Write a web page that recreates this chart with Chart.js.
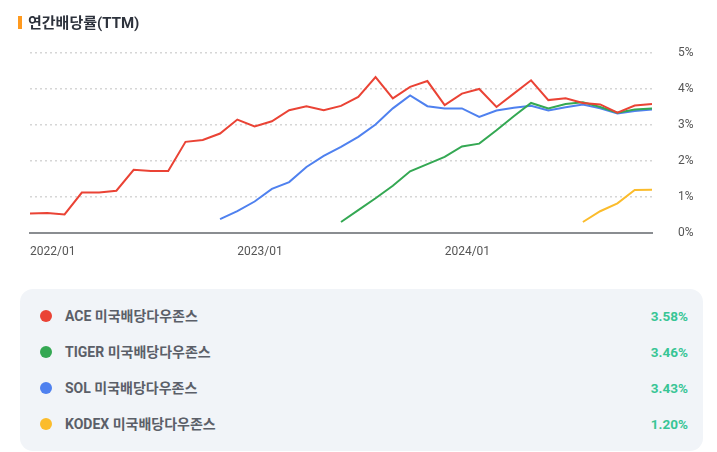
<!DOCTYPE html>
<html>
<head>
<meta charset="utf-8">
<script src="https://cdn.jsdelivr.net/npm/chart.js@4.4.1/dist/chart.umd.min.js"></script>
<style>
  body { margin: 0; background: #fff; font-family: Roboto, 'Noto Sans CJK KR', sans-serif; }
  #wrap { position: relative; width: 717px; height: 452px; overflow: hidden; }
  #title { position: absolute; left: 18px; top: 13px; font-size: 15px; font-weight: bold; color: #2d323c; line-height: 20px; }
  #title span.bar { display: inline-block; width: 4px; height: 13px; background: #ff9a1f; margin-right: 6px; vertical-align: -1px; }
  #chartBox { position: absolute; left: 0; top: 0; width: 717px; height: 266px; }
  #legend { position: absolute; left: 20px; top: 289px; width: 683px; height: 162px; background: #f1f4f8; border-radius: 13px; }
  .row { position: absolute; left: 0; right: 0; height: 20px; font-size: 14px; font-weight: bold; color: #5b5f68; line-height: 20px; }
  .dot { position: absolute; left: 20px; top: 4px; width: 12px; height: 12px; border-radius: 50%; }
  .name { position: absolute; left: 45px; }
  .val { position: absolute; right: 15px; color: #38c595; font-size: 13.5px; }
</style>
</head>
<body>
<div id="wrap">
  <div id="chartBox"><canvas id="yield"></canvas></div>
  <div id="title"><span class="bar"></span>연간배당률(TTM)</div>
  <div id="legend"></div>
</div>
<script>
// months 2022/01 .. 2025/01
const months = []
for (let i = 0; i < 37; i++) {
  const y = 2022 + Math.floor(i / 12)
  const m = (i % 12) + 1
  months.push(y + '/' + String(m).padStart(2, '0'))
}
const tickLabels = ['2022/01', '2023/01', '2024/01']

const names = ['ACE 미국배당다우존스', 'TIGER 미국배당다우존스', 'SOL 미국배당다우존스', 'KODEX 미국배당다우존스']
const colors = ['#ea4335', '#34a853', '#4f81ef', '#fbbc2c']

const ace = [0.54, 0.55, 0.51, 1.12, 1.12, 1.17, 1.75, 1.72, 1.72, 2.53, 2.58, 2.76,
  3.15, 2.96, 3.10, 3.41, 3.52, 3.41, 3.53, 3.78, 4.33, 3.74, 4.06, 4.22,
  3.55, 3.87, 4.00, 3.50, 3.87, 4.24, 3.69, 3.74, 3.61, 3.57, 3.34, 3.54, 3.58]
const tiger = [null, null, null, null, null, null, null, null, null, null, null, null,
  null, null, null, null, null, null, 0.30, 0.63, 0.96, 1.31, 1.71, 1.91,
  2.11, 2.40, 2.48, 2.85, 3.24, 3.61, 3.46, 3.58, 3.63, 3.50, 3.34, 3.43, 3.46]
const sol = [null, null, null, null, null, null, null, null, null, null, null, 0.38,
  0.60, 0.87, 1.22, 1.41, 1.83, 2.14, 2.39, 2.67, 3.01, 3.46, 3.82, 3.52,
  3.46, 3.46, 3.22, 3.40, 3.48, 3.53, 3.40, 3.49, 3.57, 3.46, 3.32, 3.39, 3.43]
const kodex = [null, null, null, null, null, null, null, null, null, null, null, null,
  null, null, null, null, null, null, null, null, null, null, null, null,
  null, null, null, null, null, null, null, null, 0.30, 0.60, 0.82, 1.19, 1.20]
const series = [ace, tiger, sol, kodex]

const ctx = document.getElementById('yield')

new Chart(ctx, {
  type: 'line',
  data: {
    labels: months,
    datasets: series.map((d, i) => ({
      label: names[i],
      data: d,
      borderColor: colors[i],
      borderWidth: 2,
      pointRadius: 0,
      tension: 0,
      fill: false
    }))
  },
  options: {
    responsive: true,
    maintainAspectRatio: false,
    animation: false,
    layout: { padding: { left: 30, top: 53, right: 0, bottom: 0 } },
    plugins: { legend: { display: false }, tooltip: { enabled: false } },
    scales: {
      x: {
        grid: { display: false },
        border: { display: true, color: '#8a8d91', width: 2 },
        afterFit: s => { s.height = 33 },
        ticks: {
          autoSkip: false,
          maxRotation: 0,
          align: 'start',
          padding: 4,
          color: '#555',
          font: { family: 'Roboto', size: 12 },
          callback: function (v) {
            const l = this.getLabelForValue(v)
            return tickLabels.includes(l) ? l : ''
          }
        }
      },
      y: {
        position: 'right',
        min: 0,
        max: 5,
        afterFit: s => { s.width = 65 },
        border: { display: false, dash: [2, 3] },
        grid: { color: '#d6d6d6', lineWidth: 1.5, drawTicks: false },
        ticks: {
          stepSize: 1,
          padding: 26,
          color: '#555',
          font: { family: 'Roboto', size: 12 },
          callback: v => v + '%'
        }
      }
    }
  }
})

// legend list built from the series ends
const legend = document.getElementById('legend')
names.forEach((n, i) => {
  const last = series[i][series[i].length - 1]
  const row = document.createElement('div')
  row.className = 'row'
  row.style.top = (17 + i * 36) + 'px'
  row.innerHTML = '<span class="dot" style="background:' + colors[i] + '"></span>' +
    '<span class="name">' + n + '</span><span class="val">' + last.toFixed(2) + '%</span>'
  legend.appendChild(row)
})
</script>
</body>
</html>
